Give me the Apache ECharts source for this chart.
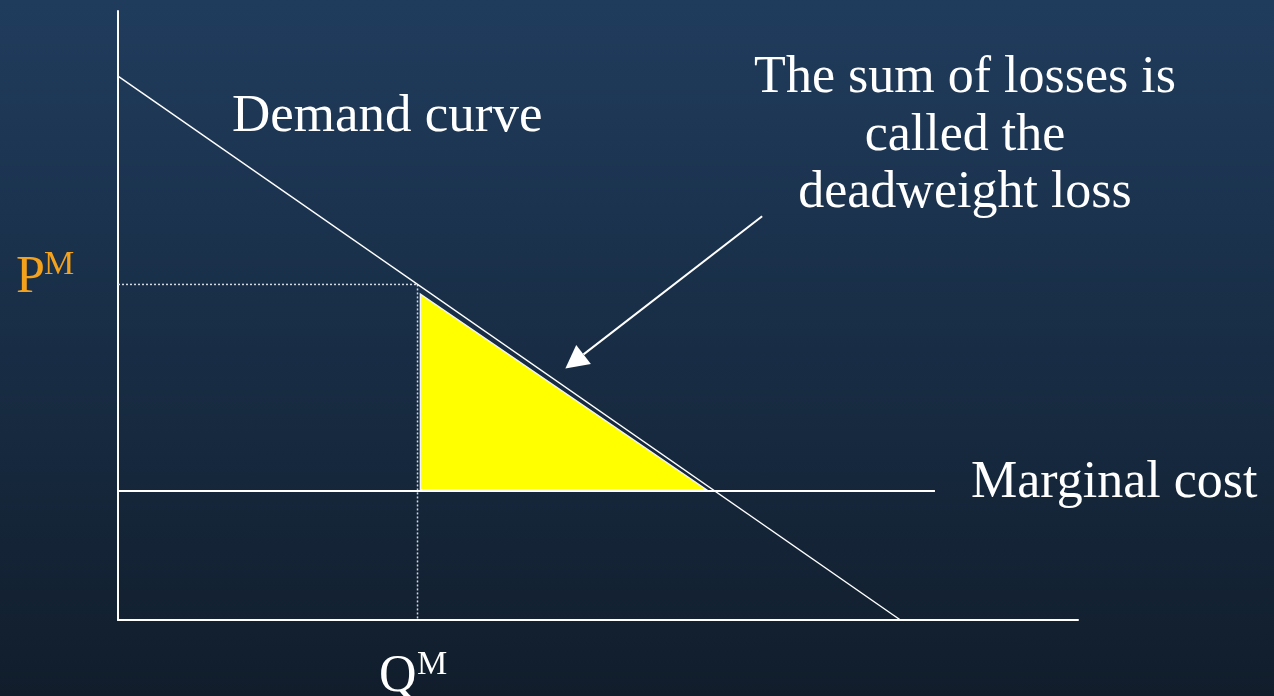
<!DOCTYPE html>
<html>
<head>
<meta charset="utf-8">
<title>Deadweight loss</title>
<script src="https://cdn.jsdelivr.net/npm/echarts@6/dist/echarts.min.js"></script>
<style>
  html, body { margin: 0; padding: 0; }
  body { background: linear-gradient(to bottom, #203c5d 0%, #182d45 50%, #111d2b 100%); }
  #dwl_chart { width: 1274px; height: 696px; }
</style>
</head>
<body>
<div id="dwl_chart"></div>
<script>
// values in abstract units: quantity 0-100 on x, price 0-100 on y
var demandCurve = [[0, 89.3], [81.5, 0]];
var marginalCost = [[0, 21.2], [85.1, 21.2]];
var priceM = 55.1;
var quantityM = 31.2;
var priceGuide = [[0, priceM], [quantityM, priceM]];
var quantityGuide = [[quantityM, priceM], [quantityM, 0]];
var dwlTriangle = [[31.5, 53.5], [31.5, 21.4], [61.3, 21.4]];
var arrowPath = [[67.1, 66.3], [46.6, 41.3]];
var noteLines = ['The sum of losses is', 'called the', 'deadweight loss'];

var serif = '"Liberation Serif", "DejaVu Serif", serif';

var dwlChart = echarts.init(document.getElementById('dwl_chart'));

function hiddenAxis(max) {
    return {
        type: 'value',
        min: 0,
        max: max,
        axisLine: { show: true, onZero: false, lineStyle: { color: '#ffffff', width: 2 } },
        axisTick: { show: false },
        axisLabel: { show: false },
        splitLine: { show: false }
    };
}

var option_dwl = {
    backgroundColor: 'transparent',
    animation: false,
    grid: {
        left: 118,
        top: 11,
        width: 960,
        height: 609,
        containLabel: false,
        outerBoundsMode: 'none'
    },
    xAxis: hiddenAxis(100),
    yAxis: hiddenAxis(100),
    graphic: [
        {
            type: 'text', left: 232, top: 91, silent: true,
            style: { text: 'Demand curve', fill: '#ffffff', font: '53px ' + serif }
        },
        {
            type: 'text', x: 965, y: 50, silent: true,
            style: {
                text: noteLines.join('\n'), fill: '#ffffff', font: '52px ' + serif,
                align: 'center', verticalAlign: 'top', lineHeight: 57.5
            }
        },
        {
            type: 'text', left: 971, top: 457, silent: true,
            style: { text: 'Marginal cost', fill: '#ffffff', font: '52px ' + serif }
        },
        {
            type: 'text', left: 16, top: 252, silent: true,
            style: { text: 'P', fill: '#f4a21c', font: '52px ' + serif }
        },
        {
            type: 'text', left: 44, top: 248, silent: true,
            style: { text: 'M', fill: '#f4a21c', font: '34px ' + serif }
        },
        {
            type: 'text', left: 379, top: 651, silent: true,
            style: { text: 'Q', fill: '#ffffff', font: '52px ' + serif }
        },
        {
            type: 'text', left: 417, top: 648, silent: true,
            style: { text: 'M', fill: '#ffffff', font: '34px ' + serif }
        }
    ],
    series: [
        {
            name: 'deadweight loss',
            type: 'custom',
            silent: true,
            z: 2,
            data: dwlTriangle,
            renderItem: function (params, api) {
                if (params.dataIndex !== 0) return;
                var pts = dwlTriangle.map(function (p) { return api.coord(p); });
                return {
                    type: 'polygon',
                    shape: { points: pts },
                    style: { fill: '#ffff00', stroke: '#f4f4f4', lineWidth: 1.5 }
                };
            }
        },
        {
            name: 'price guide',
            type: 'line',
            symbol: 'none',
            silent: true,
            z: 3,
            data: priceGuide,
            lineStyle: { color: '#d3d9e2', width: 1.5, type: [2, 2] }
        },
        {
            name: 'quantity guide',
            type: 'line',
            symbol: 'none',
            silent: true,
            z: 3,
            data: quantityGuide,
            lineStyle: { color: '#d3d9e2', width: 1.5, type: [2, 2] }
        },
        {
            name: 'Marginal cost',
            type: 'line',
            symbol: 'none',
            silent: true,
            z: 4,
            data: marginalCost,
            lineStyle: { color: '#ffffff', width: 2 }
        },
        {
            name: 'Demand curve',
            type: 'line',
            symbol: 'none',
            silent: true,
            z: 5,
            data: demandCurve,
            lineStyle: { color: '#ffffff', width: 1.5 }
        },
        {
            name: 'arrow',
            type: 'custom',
            silent: true,
            z: 6,
            data: arrowPath,
            renderItem: function (params, api) {
                if (params.dataIndex !== 0) return;
                var a = api.coord(arrowPath[0]);
                var b = api.coord(arrowPath[1]);
                var dx = b[0] - a[0], dy = b[1] - a[1];
                var len = Math.sqrt(dx * dx + dy * dy);
                var ux = dx / len, uy = dy / len;
                var headLen = 23, headHalf = 12;
                var base = [b[0] - ux * headLen, b[1] - uy * headLen];
                return {
                    type: 'group',
                    children: [
                        {
                            type: 'line',
                            shape: { x1: a[0], y1: a[1], x2: base[0], y2: base[1] },
                            style: { stroke: '#ffffff', lineWidth: 2 }
                        },
                        {
                            type: 'polygon',
                            shape: {
                                points: [
                                    b,
                                    [base[0] - uy * headHalf, base[1] + ux * headHalf],
                                    [base[0] + uy * headHalf, base[1] - ux * headHalf]
                                ]
                            },
                            style: { fill: '#ffffff' }
                        }
                    ]
                };
            }
        }
    ]
};
dwlChart.setOption(option_dwl);
</script>
</body>
</html>
